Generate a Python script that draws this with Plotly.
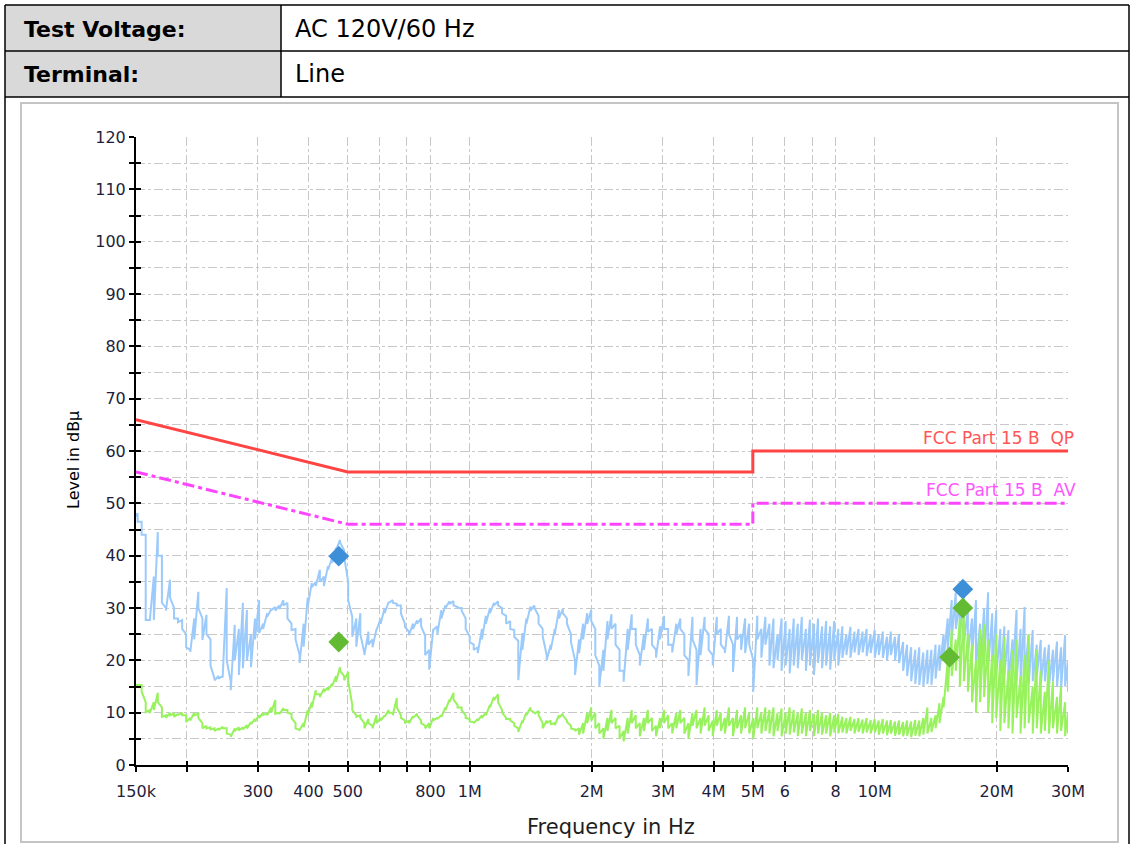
import math
import plotly.graph_objects as go

# ---------------- data ----------------
# sweep bins in MHz (100 bins per decade, plus the band edges)
freq_mhz = [
    0.150,
    0.1514, 0.1549, 0.1585, 0.1622, 0.1660, 0.1698, 0.1738, 0.1778, 0.1820, 0.1862,
    0.1905, 0.1950, 0.1995, 0.2042, 0.2089, 0.2138, 0.2188, 0.2239, 0.2291, 0.2344,
    0.2399, 0.2455, 0.2512, 0.2570, 0.2630, 0.2692, 0.2754, 0.2818, 0.2884, 0.2951,
    0.3020, 0.3090, 0.3162, 0.3236, 0.3311, 0.3388, 0.3467, 0.3548, 0.3631, 0.3715,
    0.3802, 0.3890, 0.3981, 0.4074, 0.4169, 0.4266, 0.4365, 0.4467, 0.4571, 0.4677,
    0.4786, 0.4898, 0.5012, 0.5129, 0.5248, 0.5370, 0.5495, 0.5623, 0.5754, 0.5888,
    0.6026, 0.6166, 0.6310, 0.6457, 0.6607, 0.6761, 0.6918, 0.7079, 0.7244, 0.7413,
    0.7586, 0.7762, 0.7943, 0.8128, 0.8318, 0.8511, 0.8710, 0.8913, 0.9120, 0.9333,
    0.9550, 0.9772, 1.000, 1.023, 1.047, 1.072, 1.096, 1.122, 1.148, 1.175,
    1.202, 1.230, 1.259, 1.288, 1.318, 1.349, 1.380, 1.413, 1.445, 1.479,
    1.514, 1.549, 1.585, 1.622, 1.660, 1.698, 1.738, 1.778, 1.820, 1.862,
    1.905, 1.950, 1.995, 2.042, 2.089, 2.138, 2.188, 2.239, 2.291, 2.344,
    2.399, 2.455, 2.512, 2.570, 2.630, 2.692, 2.754, 2.818, 2.884, 2.951,
    3.020, 3.090, 3.162, 3.236, 3.311, 3.388, 3.467, 3.548, 3.631, 3.715,
    3.802, 3.890, 3.981, 4.074, 4.169, 4.266, 4.365, 4.467, 4.571, 4.677,
    4.786, 4.898, 5.012, 5.129, 5.248, 5.370, 5.495, 5.623, 5.754, 5.888,
    6.026, 6.166, 6.310, 6.457, 6.607, 6.761, 6.918, 7.079, 7.244, 7.413,
    7.586, 7.762, 7.943, 8.128, 8.318, 8.511, 8.710, 8.913, 9.120, 9.333,
    9.550, 9.772, 10.00, 10.23, 10.47, 10.72, 10.96, 11.22, 11.48, 11.75,
    12.02, 12.30, 12.59, 12.88, 13.18, 13.49, 13.80, 14.13, 14.45, 14.79,
    15.14, 15.49, 15.85, 16.22, 16.60, 16.98, 17.38, 17.78, 18.20, 18.62,
    19.05, 19.50, 19.95, 20.42, 20.89, 21.38, 21.88, 22.39, 22.91, 23.44,
    23.99, 24.55, 25.12, 25.70, 26.30, 26.92, 27.54, 28.18, 28.84, 29.51,
    30.00,
]

# peak-detector trace (light blue): max / min level within each bin, dBuV
blue_max = [
    48.1,
    48.1, 46.5, 44, 27.7, 36, 44.5, 40, 30, 35.4, 30,
    28, 27.7, 25, 22, 28, 33.1, 28, 28.7, 24, 16.5,
    17, 17, 33.8, 16, 26.8, 26, 31, 29.6, 25, 28,
    31.5, 27, 29, 29.8, 30.2, 30.5, 31.5, 31, 27, 26,
    21, 27, 32, 34.8, 35, 37.3, 36, 38, 39.5, 41.5,
    43, 41, 35, 28.3, 28, 29, 21.4, 25.5, 24, 26,
    28, 30, 31.2, 31.5, 30.8, 30.5, 27, 25.5, 27, 27.6,
    28, 24.7, 22, 26, 26.5, 29.6, 30.5, 31.3, 31.3, 30.2,
    30, 28, 24.6, 23, 22.5, 26, 28.5, 30, 31, 31.3,
    30, 28.5, 27.5, 25.8, 23.7, 25.2, 28, 30.3, 30.5, 28.5,
    26, 21, 23, 26, 29.6, 29.8, 28, 25, 20, 24,
    27, 29, 29.6, 26, 19, 22, 27.5, 28.8, 27, 22,
    18, 26, 28.8, 26, 21, 25, 28, 26, 22, 26.5,
    28.5, 26, 23, 27, 28, 25, 20, 28.3, 22, 26,
    28.3, 25, 21, 28.3, 26, 22, 28.5, 23, 28.3, 25,
    28, 27, 20, 28.5, 26, 28.3, 27, 28, 25, 28,
    27.5, 26, 28, 27, 28.3, 26, 27.8, 27, 28, 26.5,
    27.5, 26.5, 27.5, 26, 26.5, 25, 26.4, 25.5, 26, 25.5,
    26, 25, 25.8, 25, 25.5, 24.5, 25.5, 24.5, 25, 23.5,
    23, 22.5, 22, 22.5, 21.5, 22, 22, 23, 23, 25,
    28, 31.5, 33, 31, 33.5, 30, 28, 31.5, 27, 30,
    33, 29, 29.6, 26, 26.5, 25.8, 24, 29.6, 26, 30.2,
    25, 25.8, 23, 23.9, 22.5, 23, 22, 23.6, 22.5, 24.8,
    20,
]
blue_min = [
    47.5,
    46.5, 44, 27.7, 27.5, 27.7, 40, 31, 29.5, 32, 28,
    27.3, 26, 22.5, 21.6, 24, 30, 23.9, 25, 19, 16.2,
    16.5, 16.7, 20, 14.3, 20, 17.2, 18.5, 20, 18.7, 24,
    25.2, 26, 28.3, 29.6, 29.5, 29.8, 30.5, 28, 25.8, 24,
    19.5, 22.6, 30.2, 34, 34.2, 35, 34.2, 37.3, 38.6, 41.1,
    42.5, 39.7, 31.5, 24.5, 22.6, 25, 21, 23, 22.5, 25.8,
    27, 29, 31, 31, 30.5, 29, 26.4, 24.8, 26, 27,
    26.5, 21, 18.2, 25.8, 25, 28, 30, 30.8, 30.5, 30,
    29.5, 26, 23.5, 22, 21.4, 24, 27, 29, 30.5, 30.5,
    29, 27, 26, 24.5, 16.2, 22, 27, 29.5, 30, 27,
    24.6, 20, 22, 25, 28, 29, 27, 23.5, 17.2, 21.4,
    24, 27, 27.5, 21, 15, 18, 24, 26, 23, 18,
    15.9, 22, 26, 23, 19, 22, 25.5, 23, 20.5, 24,
    26, 23, 21.5, 25, 26, 21, 17, 24, 15.3, 21,
    26, 22, 19, 25, 23, 21.4, 25, 17.8, 24, 22,
    21.4, 23, 14, 24, 20.5, 23, 19, 18.5, 20, 18,
    19, 17.5, 19, 18.5, 20, 18, 19, 17.2, 19.5, 18.5,
    19, 18.2, 20, 19, 20.5, 21, 20.5, 21.5, 21, 21.5,
    20.8, 21.4, 20.5, 21, 20.5, 20, 21, 20, 19.5, 18,
    17, 16, 15.5, 15.3, 15, 15.5, 15.3, 16.5, 18, 20,
    22, 24, 26, 24, 23, 21, 20, 19, 18.5, 19,
    18.5, 18, 17, 16, 17, 15.5, 16.5, 16, 15, 17,
    15.5, 16, 17, 15.5, 16, 15, 16, 15, 14.5, 15,
    14,
]

# average-detector trace (light green): max / min level within each bin, dBuV
green_max = [
    15.3,
    15.3, 15.3, 12, 10.5, 12, 13.8, 11, 9.5, 10, 9.8,
    9.8, 10, 9.5, 9, 10, 9.8, 8, 7.5, 7.2, 7,
    7, 7.3, 7, 5.8, 7, 7.2, 7.2, 7.6, 8.2, 8.8,
    9.5, 10, 9.8, 11, 12.4, 10, 10.9, 10.5, 9.8, 8,
    6.8, 8, 10.5, 12, 14.3, 13.5, 14.6, 14.8, 15.5, 17,
    18.7, 17, 17.8, 11.5, 9.5, 9.5, 8, 8.8, 7.5, 9.5,
    9, 9.5, 10.5, 10, 12.8, 9.5, 8.5, 8.5, 9.3, 9.8,
    8.5, 7.5, 8, 9, 9, 9.5, 11, 12.5, 13.8, 11.5,
    11, 9.5, 8.8, 8.2, 8.8, 9.5, 10, 11.5, 13, 13.5,
    10.5, 9, 8.8, 8, 7, 8.5, 10, 11, 10, 10.3,
    8, 8.5, 8.5, 8, 9.5, 9.8, 8.5, 7.5, 6.8, 7,
    8, 10, 11, 10, 8, 7, 9, 10.5, 9, 7.5,
    6.5, 9, 10.5, 9.5, 8, 9, 10.5, 9, 7.5, 9,
    10.5, 9.5, 8, 10, 10.5, 9, 8, 10, 10.5, 9,
    11, 9.5, 8.5, 10.5, 10, 9, 11, 9, 10.5, 9.5,
    11, 10, 9, 11, 10, 11, 10.5, 11, 10, 10.8,
    10, 11, 10.5, 10, 10.8, 10, 10.5, 9.8, 10.5, 10,
    9.5, 10, 9.5, 9.8, 9.2, 9, 9.2, 8.8, 9, 8.7,
    9, 8.6, 8.8, 8.5, 8.8, 8.5, 8.6, 8.3, 8.5, 8.2,
    8.5, 8.3, 8.6, 8.5, 9, 11, 9, 9.5, 11.8, 13,
    20, 25.8, 24, 28, 30, 25, 23, 20, 26, 27,
    24, 21, 25, 20, 24.5, 18, 22, 24, 17, 21,
    25, 15, 22, 18, 14, 20, 16, 13, 15, 12,
    10,
]
green_min = [
    15.3,
    15.3, 14, 10.1, 9.9, 10.5, 12, 9.2, 9, 9.5, 9.2,
    9.5, 9.5, 8.2, 8.5, 9.5, 9, 7, 7, 6.8, 6.5,
    6.7, 7, 6, 5.4, 6.5, 6.6, 6.8, 7, 7.8, 8.3,
    9, 9.6, 9.5, 10, 9.8, 9.7, 10.5, 10, 9, 7,
    6.7, 7.2, 9.5, 11, 13.5, 13, 14, 14.3, 15, 15.9,
    18, 16.2, 16, 10.5, 9.2, 9, 7, 8, 7, 8,
    8.5, 9.2, 10, 9.5, 11, 9, 8, 8, 9, 9.5,
    8, 7, 7, 8.5, 8.8, 9.2, 10.5, 12, 12.5, 11,
    10.5, 9, 8.3, 8, 8.5, 9, 9.5, 11, 12.4, 12,
    10, 8.8, 8.5, 7.5, 6.3, 8, 9.5, 10.5, 9.8, 9.5,
    7, 8, 7.8, 7.6, 9, 9.5, 8.2, 7, 6.5, 5.8,
    6, 8, 8.5, 7, 6, 5, 6.5, 8, 7, 5,
    4.5, 6, 8, 7, 5.5, 6.5, 8, 6.5, 5.5, 7,
    8, 7, 6, 7, 8, 6, 5, 7.5, 7, 6,
    7.5, 6.5, 5.5, 7.5, 6.5, 6, 7.5, 5.5, 7, 6,
    7, 6, 5, 7, 6, 6.5, 6, 5.5, 6.5, 5.5,
    6, 5.8, 6.2, 5.5, 6, 5.5, 6.5, 5.5, 6, 5.8,
    6, 5.5, 6.2, 6, 6.2, 6, 6.5, 6, 6.3, 6,
    6.2, 6, 6.2, 5.8, 6, 5.7, 6, 5.6, 5.8, 5.5,
    5.6, 5.3, 5.6, 5.5, 5.8, 6, 6.3, 7, 8, 11,
    14, 17, 18, 15, 16, 14, 12, 10, 12, 13,
    10, 8, 9, 6.5, 8, 7, 6, 9, 6, 7,
    8, 6, 7, 6, 6.5, 6, 7, 6, 6.5, 5.5,
    6,
]

# limit lines (FCC Part 15 B)
limit_freq_mhz = [0.15, 0.5, 5.0, 5.0, 30.0]
qp_limit = [66, 56, 56, 60, 60]
av_limit = [56, 46, 46, 50, 50]

# final measurement markers
qp_mark_freq_mhz = [0.150, 0.475, 16.5]
qp_mark_level = [39.2, 39.9, 33.6]
av_mark_freq_mhz = [0.475, 15.3, 16.5]
av_mark_level = [23.5, 20.6, 30.0]

# axis ticks
x_tick_mhz = [0.15, 0.2, 0.3, 0.4, 0.5, 0.6, 0.7, 0.8, 1, 2, 3, 4, 5, 6, 7, 8, 10, 20, 30]
x_tick_text = ["150k", "", "300", "400", "500", "", "", "800", "1M", "2M", "3M", "4M",
               "5M", "6", "", "8", "10M", "20M", "30M"]
y_tick_vals = [0, 5, 10, 15, 20, 25, 30, 35, 40, 45, 50, 55, 60, 65, 70, 75, 80, 85,
               90, 95, 100, 105, 110, 115, 120]
y_tick_text = ["0", "", "10", "", "20", "", "30", "", "40", "", "50", "", "60", "", "70",
               "", "80", "", "90", "", "100", "", "110", "", "120"]

header_labels = ["Test Voltage:", "Terminal:"]
header_values = ["AC 120V/60 Hz", "Line"]

assert len(freq_mhz) == len(blue_max) == len(blue_min) == len(green_max) == len(green_min)


# ---------------- helpers ----------------
def to_hz(values):
    return [v * 1e6 for v in values]


def envelope(freqs, hi, lo):
    """Each bin drawn as a max->min stroke, so dense parts read as a band."""
    xs, ys = [], []
    for f, h, l in zip(freqs, hi, lo):
        xs += [f * 1e6, f * 1e6]
        ys += [h, l]
    return xs, ys


W, H = 1134, 844
PL, PR, PT, PB = 136, 1068, 137, 765


def px(x):
    return (x - PL) / (PR - PL)


def py(y):
    return (PB - y) / (PB - PT)


FONT = "DejaVu Sans"

fig = go.Figure()

bx, by = envelope(freq_mhz, blue_max, blue_min)
gx, gy = envelope(freq_mhz, green_max, green_min)

fig.add_trace(go.Scatter(x=bx, y=by, mode="lines", line=dict(color="#9ccbfb", width=2),
                         showlegend=False, hoverinfo="skip"))
fig.add_trace(go.Scatter(x=gx, y=gy, mode="lines", line=dict(color="#98f25e", width=2),
                         showlegend=False, hoverinfo="skip"))
fig.add_trace(go.Scatter(x=to_hz(limit_freq_mhz), y=qp_limit, mode="lines",
                         line=dict(color="#ff4444", width=3), showlegend=False))
fig.add_trace(go.Scatter(x=to_hz(limit_freq_mhz), y=av_limit, mode="lines",
                         line=dict(color="#ff44ff", width=3, dash="12px,4px,4px,4px"),
                         showlegend=False))
fig.add_trace(go.Scatter(x=to_hz(qp_mark_freq_mhz), y=qp_mark_level, mode="markers",
                         marker=dict(symbol="diamond", size=16, color="#3d8fd8"),
                         cliponaxis=False, showlegend=False))
fig.add_trace(go.Scatter(x=to_hz(av_mark_freq_mhz), y=av_mark_level, mode="markers",
                         marker=dict(symbol="diamond", size=16, color="#62bb33"),
                         cliponaxis=False, showlegend=False))
# empty trace carrying the overlay axes (inner half of the crossing ticks)
fig.add_trace(go.Scatter(x=[], y=[], xaxis="x2", yaxis="y2", showlegend=False))

xr = [math.log10(1.5e5), math.log10(3e7)]
tick_font = dict(family=FONT, size=16, color="#1e1e3c")

fig.update_layout(
    width=W, height=H,
    margin=dict(l=PL, r=W - PR, t=PT, b=H - PB, pad=0),
    paper_bgcolor="white", plot_bgcolor="white",
    xaxis=dict(type="log", range=xr, tickvals=to_hz(x_tick_mhz), ticktext=x_tick_text,
               showgrid=True, gridcolor="#c8c8c8", griddash="dashdot", gridwidth=1,
               showline=True, linecolor="black", linewidth=2, zeroline=False,
               ticks="outside", ticklen=5, tickwidth=1.5, tickcolor="black",
               tickfont=tick_font, ticklabelstandoff=6, layer="below traces"),
    yaxis=dict(range=[0, 120], tickvals=y_tick_vals, ticktext=y_tick_text,
               showgrid=True, gridcolor="#c8c8c8", griddash="dashdot", gridwidth=1,
               showline=True, linecolor="black", linewidth=2, zeroline=False,
               ticks="outside", ticklen=5, tickwidth=1.5, tickcolor="black",
               tickfont=tick_font, ticklabelstandoff=0, layer="below traces"),
    xaxis2=dict(type="log", range=xr, overlaying="x", anchor="y", side="bottom",
                tickvals=to_hz(x_tick_mhz), showticklabels=False, showgrid=False,
                showline=False, zeroline=False, ticks="inside", ticklen=4,
                tickwidth=1.5, tickcolor="black"),
    yaxis2=dict(range=[0, 120], overlaying="y", anchor="x", side="left",
                tickvals=y_tick_vals, showticklabels=False, showgrid=False,
                showline=False, zeroline=False, ticks="inside", ticklen=5,
                tickwidth=1.5, tickcolor="black"),
    hovermode=False,
)

# ---------------- header table and frames ----------------
shapes = []
for y0, y1 in [(5, 51), (51, 97)]:
    shapes.append(dict(type="rect", xref="paper", yref="paper", x0=px(5), x1=px(281),
                       y0=py(y1), y1=py(y0), fillcolor="#d9d9d9", line_width=0, layer="below"))
black = dict(color="black", width=1.5)
for y in [5, 51, 97]:
    shapes.append(dict(type="line", xref="paper", yref="paper", x0=px(5), x1=px(1129),
                       y0=py(y), y1=py(y), line=black))
shapes.append(dict(type="line", xref="paper", yref="paper", x0=px(5), x1=px(5),
                   y0=py(5), y1=py(846), line=black))
shapes.append(dict(type="line", xref="paper", yref="paper", x0=px(1129), x1=px(1129),
                   y0=py(5), y1=py(846), line=black))
shapes.append(dict(type="line", xref="paper", yref="paper", x0=px(281), x1=px(281),
                   y0=py(5), y1=py(97), line=black))
shapes.append(dict(type="rect", xref="paper", yref="paper", x0=px(21), x1=px(1118),
                   y0=py(842), y1=py(103), line=dict(color="#c4c4c4", width=2),
                   fillcolor="rgba(0,0,0,0)", layer="below"))
fig.update_layout(shapes=shapes)

ann = []
for i, (lab, val) in enumerate(zip(header_labels, header_values)):
    yc = 29 + 45 * i
    ann.append(dict(text="<b>" + lab + "</b>", xref="paper", yref="paper", x=px(22), y=py(yc),
                    xanchor="left", yanchor="middle", showarrow=False,
                    font=dict(family=FONT, size=22, color="black")))
    ann.append(dict(text=val, xref="paper", yref="paper", x=px(293), y=py(yc),
                    xanchor="left", yanchor="middle", showarrow=False,
                    font=dict(family=FONT, size=24, color="black")))

ann.append(dict(text="Level in dBµ", xref="paper", yref="paper", x=px(73), y=py(460),
                xanchor="center", yanchor="middle", textangle=-90, showarrow=False,
                font=dict(family=FONT, size=16, color="black")))
ann.append(dict(text="Frequency in Hz", xref="paper", yref="paper", x=px(611), y=py(827),
                xanchor="center", yanchor="middle", showarrow=False,
                font=dict(family=FONT, size=21, color="#1e1e1e")))
ann.append(dict(text="FCC Part 15 B  QP", xref="paper", yref="y", x=px(1076), y=qp_limit[-1],
                xanchor="right", yanchor="bottom", yshift=1, showarrow=False,
                font=dict(family=FONT, size=17, color="#ff5555")))
ann.append(dict(text="FCC Part 15 B  AV", xref="paper", yref="y", x=px(1078), y=av_limit[-1],
                xanchor="right", yanchor="bottom", yshift=1, showarrow=False,
                font=dict(family=FONT, size=17, color="#ff55ff")))
fig.update_layout(annotations=ann)

# the page's default 8px body margin would push the figure off the window
fig.write_html("out.html", config={"displayModeBar": False},
               post_script="document.body.style.margin='0';document.body.style.overflow='hidden';")
